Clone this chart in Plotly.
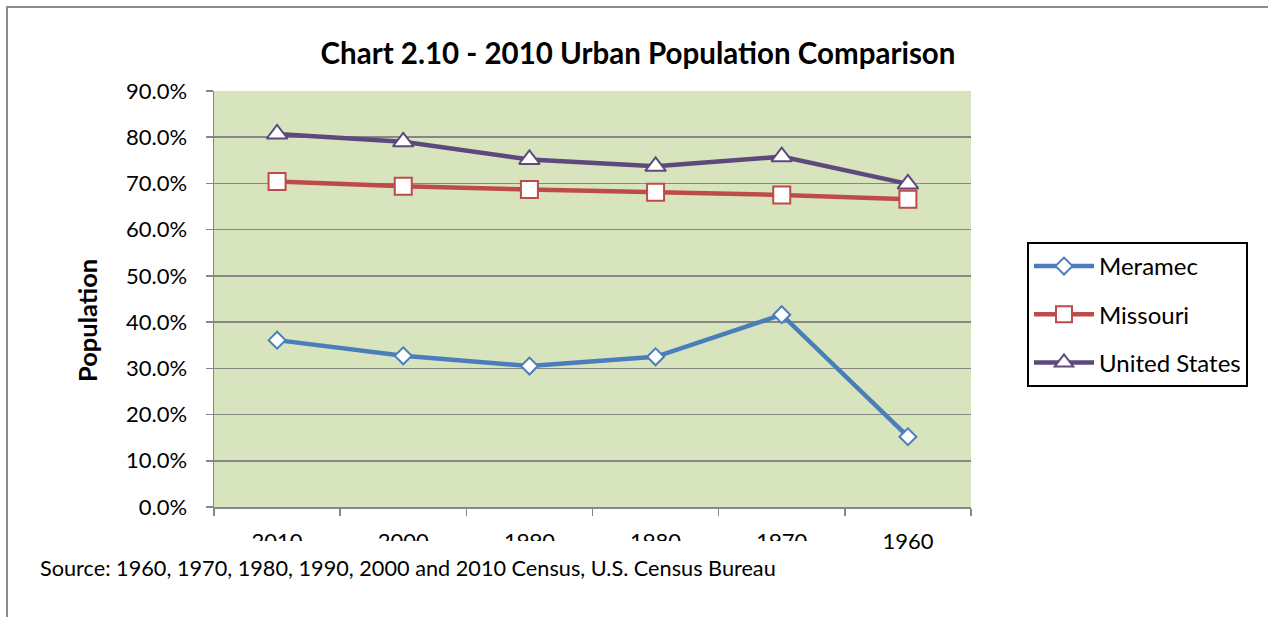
import plotly.graph_objects as go

years = ["2010", "2000", "1990", "1980", "1970", "1960"]
meramec = [0.361, 0.327, 0.305, 0.325, 0.416, 0.152]
missouri = [0.704, 0.694, 0.687, 0.681, 0.675, 0.666]
united_states = [0.807, 0.790, 0.752, 0.737, 0.758, 0.699]
y_ticks = [0.0, 0.1, 0.2, 0.3, 0.4, 0.5, 0.6, 0.7, 0.8, 0.9]

FONT = "Lato"
W, H = 1268, 617
L, R, T, B = 214, 971, 91, 507  # plot area in px


def px_x(px):
    return (px - L) / (R - L)


def px_y(py):
    return (B - py) / (B - T)


fig = go.Figure()

series = [
    ("Meramec", meramec, "#4A7EBB", "diamond", 13),
    ("Missouri", missouri, "#BE4B48", "square", 17),
    ("United States", united_states, "#5E497D", "triangle-up", 18),
]
for i, (name, vals, col, sym, sz) in enumerate(series):
    fig.add_trace(go.Scatter(
        x=years, y=vals, name=name, mode="lines+markers",
        line=dict(color=col, width=4.5),
        marker=dict(symbol=sym, size=sz, color="white",
                    line=dict(color=col, width=2)),
        legendgroup=f"g{i}",
    ))

fig.update_layout(
    width=W, height=H,
    margin=dict(l=L, r=W - R, t=T, b=H - B),
    paper_bgcolor="white",
    plot_bgcolor="#D7E4BD",
    font=dict(family=FONT, color="black", size=22),
    title=dict(text="<b>Chart 2.10 - 2010 Urban Population Comparison</b>",
               font=dict(family=FONT, size=29.5, color="black"),
               xref="paper", x=px_x(638), xanchor="center",
               yref="container", y=1 - 54 / H, yanchor="middle"),
    showlegend=True,
    legend=dict(x=px_x(1027), y=px_y(242), xanchor="left", yanchor="top",
                bordercolor="black", borderwidth=2, bgcolor="white",
                font=dict(family=FONT, size=24, color="black"),
                traceorder="grouped", tracegroupgap=14, itemwidth=60),
    xaxis=dict(type="category", range=[-0.5, 5.5], showgrid=False,
               tickson="boundaries", ticks="outside", ticklen=7,
               tickcolor="#878787", tickwidth=1.5,
               showline=True, linecolor="#878787", linewidth=1.5,
               tickfont=dict(family=FONT, size=22, color="black"),
               ticklabelstandoff=14, fixedrange=True),
    yaxis=dict(range=[0, 0.9], tickvals=y_ticks, tickformat=".1%",
               showgrid=True, gridcolor="#878787", gridwidth=1.5,
               ticks="outside", ticklen=7, tickcolor="#878787", tickwidth=1.5,
               showline=True, linecolor="#878787", linewidth=1.5,
               zeroline=False,
               tickfont=dict(family=FONT, size=22, color="black"),
               ticklabelstandoff=14, fixedrange=True),
)

# clip the lower half of the first five x-axis labels, as in the reference
fig.add_shape(type="rect", xref="paper", yref="paper",
              x0=px_x(200), x1=px_x(845), y0=px_y(541), y1=px_y(558),
              fillcolor="white", line=dict(width=0), layer="above")

# outer chart frame
fig.add_shape(type="rect", xref="paper", yref="paper",
              x0=px_x(7), x1=px_x(1290), y0=px_y(7), y1=px_y(640),
              fillcolor="rgba(0,0,0,0)", line=dict(color="#8C8C8C", width=2),
              layer="below")

fig.add_annotation(text="<b>Population</b>", textangle=-90,
                   xref="paper", yref="paper", x=px_x(87), y=px_y(320),
                   xanchor="center", yanchor="middle", showarrow=False,
                   font=dict(family=FONT, size=25.5, color="black"))

fig.add_annotation(text="Source: 1960, 1970, 1980, 1990, 2000 and 2010 Census, U.S. Census Bureau",
                   xref="paper", yref="paper", x=px_x(38), y=px_y(568),
                   xanchor="left", yanchor="middle", showarrow=False,
                   font=dict(family=FONT, size=21.7, color="black"))

fig.write_html("out.html",
               config={"displayModeBar": False, "staticPlot": True},
               post_script="document.body.style.margin='0';document.body.style.overflow='hidden';")
